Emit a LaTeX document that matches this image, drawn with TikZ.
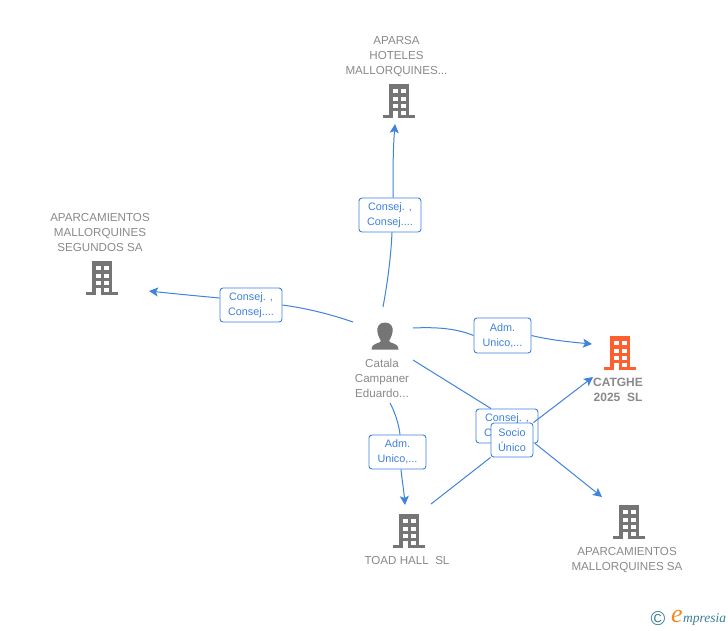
\documentclass[tikz,border=0pt]{standalone}
\usepackage{fontspec}
\setmainfont{Liberation Sans}
\newfontfamily\logofont{Liberation Serif}
\usetikzlibrary{arrows.meta,calc}
\definecolor{edgeblue}{HTML}{3F83DC}
\definecolor{labelblue}{HTML}{3E80DE}
\definecolor{greytxt}{HTML}{8A8A8A}
\definecolor{icongrey}{HTML}{757575}
\definecolor{iconorange}{HTML}{FF5F2E}
\definecolor{logoteal}{HTML}{3A7F96}
\definecolor{logoorange}{HTML}{F08A24}
\tikzset{
  conn/.style={draw=edgeblue,line width=1pt},
  arrowconn/.style={conn,-{Stealth[length=9pt,width=9pt,inset=2pt]}},
  edgelabel/.style={draw=labelblue,line width=0.9pt,fill=white,rounded corners=3pt,inner sep=0pt,align=center,text=labelblue,font=\fontsize{10.8}{15}\selectfont},
  nodetext/.style={align=center,text=greytxt,inner sep=0pt,font=\fontsize{11.6}{15}\selectfont},
  boldtext/.style={nodetext,font=\fontsize{12}{15}\selectfont\bfseries},
  building/.pic={
    \fill[pic actions] (-10,-16) rectangle (10,15);
    \fill[pic actions] (-16,15) rectangle (16,18);
    \foreach \yy in {-11,-3.5,4}{
      \fill[white] (-6,\yy) rectangle (-1.5,\yy+4);
      \fill[white] (2,\yy) rectangle (6.5,\yy+4);
    }
    \fill[white] (-6,10.5) rectangle (-1.5,18);
    \fill[white] (2,10.5) rectangle (6.5,14.5);
  },
}
\begin{document}
\begin{tikzpicture}[x=1pt,y=-1pt]
\useasboundingbox[fill=white] (0,0) rectangle (728,630);

% building icons
\coordinate (iAparsa) at (399,100);
\coordinate (iSegundos) at (102,277);
\coordinate (iCatghe) at (620,352);
\coordinate (iToad) at (409,530);
\coordinate (iAparc) at (629,521);
\pic[fill=icongrey] at (iAparsa) {building};
\pic[fill=icongrey] at (iSegundos) {building};
\pic[fill=iconorange] at (iCatghe) {building};
\pic[fill=icongrey] at (iToad) {building};
\pic[fill=icongrey] at (iAparc) {building};

% person icon
\fill[icongrey] (385,322.5) .. controls (379,322.5) and (376.5,327) .. (377.5,332)
  .. controls (378,336) and (380,339) .. (381,341)
  .. controls (380,344) and (372,342) .. (371.5,349.5) -- (398.5,349.5)
  .. controls (398,342) and (390,344) .. (389,341)
  .. controls (390,339) and (392,336) .. (392.5,332)
  .. controls (393.5,327) and (391,322.5) .. (385,322.5) -- cycle;

% node texts
\node[nodetext] (tAparsa) at (396.5,57) {APARSA\\HOTELES\\MALLORQUINES...};
\node[nodetext] (tSegundos) at (100,232) {APARCAMIENTOS\\MALLORQUINES\\SEGUNDOS SA};
\node[nodetext] (tPerson) at (382,378) {Catala\\Campaner\\Eduardo...};
\node[boldtext] (tCatghe) at (618,389.5) {CATGHE\\2025\ \ SL};
\node[nodetext] (tToad) at (407,560) {TOAD HALL\ \ SL};
\node[nodetext] (tAparc) at (627,560.5) {APARCAMIENTOS\\MALLORQUINES SA};

% free ends
\coordinate (pN) at (383,307);
\coordinate (pW) at (353,322);
\coordinate (pE) at (413,328);
\coordinate (pSE) at (413,360);
\coordinate (pS) at (390,403);
\coordinate (toAparsa) at (395,124);
\coordinate (toSegundos) at (149,291);
\coordinate (toCatghe) at (592,344);
\coordinate (toAparc) at (602,497);
\coordinate (toToad) at (405,505);
\coordinate (toCatgheB) at (593,377);
\coordinate (fromToad) at (431,504);

% edge labels
\node[edgelabel,minimum width=62pt,minimum height=34pt] (lN) at (390,215) {Consej. ,\\Consej....};
\node[edgelabel,minimum width=62pt,minimum height=34pt] (lW) at (251,305) {Consej. ,\\Consej....};
\node[edgelabel,minimum width=57pt,minimum height=35pt] (lE) at (502.5,335.5) {Adm.\\Unico,...};
\node[edgelabel,minimum width=57pt,minimum height=34pt] (lS) at (397.5,452) {Adm.\\Unico,...};
\node[edgelabel,minimum width=62pt,minimum height=34pt] (lC) at (507,426) {Consej. ,\\Consej....};

% connectors
\draw[conn] (pN) .. controls (388,280) and (391,255) .. (lN.south -| 392,0);
\draw[arrowconn] (lN.north -| 393,0) .. controls (393,170) and (393,150) .. (toAparsa);
\draw[conn] (pW) .. controls (330,314) and (305,308) .. (lW.east);
\draw[arrowconn] ($(lW.west)+(0,-7)$) .. controls (198,296) and (172,293.5) .. (toSegundos);
\draw[conn] (pE) .. controls (435,327) and (455,328) .. (lE.west);
\draw[arrowconn] (lE.east) .. controls (550,340) and (570,342) .. (toCatghe);
\draw[conn] (pSE) -- (lC.north -| 491,0);
\draw[arrowconn] (lC.south -| 535,0) -- (toAparc);
\draw[conn] (pS) .. controls (395,412) and (399,425) .. (lS.north -| 400,0);
\draw[arrowconn] (lS.south -| 401,0) .. controls (402,480) and (404,492) .. (toToad);

\node[edgelabel,minimum width=42pt,minimum height=34pt] (lT) at (512,440) {Socio\\Único};
\draw[conn] (fromToad) -- (lT.south west);
\draw[arrowconn] (lT.north east) -- (toCatgheB);

% logo
\node[inner sep=0pt,text=logoteal,font=\fontsize{20}{20}\selectfont] (cSym) at (658,619) {\char"00A9};
\node[inner sep=0pt,text=logoorange,font=\logofont\itshape\fontsize{26}{26}\selectfont] (eSym) at (677,616) {e};
\node[inner sep=0pt,anchor=west,text=logoteal,font=\logofont\itshape\fontsize{13.5}{13.5}\selectfont] (mSym) at (683,619) {mpresia};
\end{tikzpicture}
\end{document}
